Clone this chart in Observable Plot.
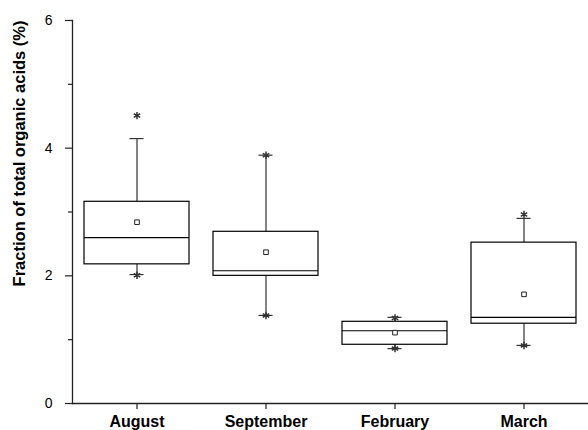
<!DOCTYPE html>
<html>
<head>
<meta charset="utf-8">
<script src="https://cdn.jsdelivr.net/npm/d3@7"></script>
<script src="https://cdn.jsdelivr.net/npm/@observablehq/plot@0.6"></script>
<style>
  html, body { margin: 0; padding: 0; background: #fff; }
  #chart { width: 588px; height: 430px; }
  svg { font-family: Arial, "Liberation Sans", sans-serif; }
</style>
</head>
<body>
<div id="chart"></div>
<script>
const months = ["August", "September", "February", "March"];
const q1 = [2.18, 2.00, 0.92, 1.25];
const median = [2.60, 2.08, 1.14, 1.35];
const q3 = [3.16, 2.69, 1.28, 2.52];
const mean = [2.84, 2.37, 1.11, 1.71];
const whiskerLow = [2.02, 1.38, 0.86, 0.91];
const whiskerHigh = [4.15, 3.89, 1.35, 2.90];
const minVal = [2.01, 1.38, 0.86, 0.91];
const maxVal = [4.51, 3.89, 1.34, 2.96];
const yMajorTicks = [0, 2, 4, 6];
const yMinorTicks = [1, 3, 5];
const yLabel = "Fraction of total organic acids (%)";

const data = months.map((m, i) => ({
  month: m, q1: q1[i], median: median[i], q3: q3[i], mean: mean[i],
  lo: whiskerLow[i], hi: whiskerHigh[i], min: minVal[i], max: maxVal[i]
}));

const ink = "#222";
const boxInset = 12;
const capInset = 57.5;

const chart = Plot.plot({
  width: 588,
  height: 430,
  marginLeft: 72,
  marginRight: 0,
  marginTop: 20,
  marginBottom: 27,
  style: { background: "#fff", fontFamily: "Arial, 'Liberation Sans', sans-serif" },
  x: { type: "band", domain: months, padding: 0, axis: null },
  y: { domain: [0, 6], axis: null },
  marks: [
    Plot.ruleY([0], { stroke: ink, strokeWidth: 1.3 }),
    Plot.frame({ anchor: "left", stroke: ink, strokeWidth: 1.3 }),
    Plot.axisY({ ticks: yMajorTicks, tickSize: 7, text: null, stroke: ink, strokeWidth: 1.2, label: null }),
    Plot.axisY({ ticks: yMinorTicks, tickSize: 4, text: null, stroke: ink, strokeWidth: 1.2, label: null }),
    Plot.text(yMajorTicks, { y: d => d, text: d => String(d), frameAnchor: "left", textAnchor: "end", dx: -20, fontSize: 14, fill: "#000" }),
    Plot.axisX({ tickSize: 6, tickPadding: 6, fontSize: 16, fontWeight: "bold", stroke: ink, strokeWidth: 1.2, label: null, fill: "#000" }),
    Plot.text([yLabel], { frameAnchor: "top-left", rotate: -90, textAnchor: "end", dx: -59, fontSize: 16.5, fontWeight: "bold", fill: "#000" }),
    Plot.ruleX(data, { x: "month", y1: "q3", y2: "hi", stroke: "#333", strokeWidth: 1.2 }),
    Plot.ruleX(data, { x: "month", y1: "q1", y2: "lo", stroke: "#333", strokeWidth: 1.2 }),
    Plot.barY(data, { x: "month", y1: "q1", y2: "q3", fill: "white", stroke: "#000", strokeWidth: 1.2, insetLeft: boxInset, insetRight: boxInset }),
    Plot.tickY(data, { x: "month", y: "median", stroke: "#000", strokeWidth: 1.2, insetLeft: boxInset, insetRight: boxInset }),
    Plot.tickY(data, { x: "month", y: "hi", stroke: "#333", strokeWidth: 1.2, insetLeft: capInset, insetRight: capInset }),
    Plot.tickY(data, { x: "month", y: "lo", stroke: "#333", strokeWidth: 1.2, insetLeft: capInset, insetRight: capInset }),
    Plot.dot(data, { x: "month", y: "mean", symbol: "square", r: 2.6, fill: "white", stroke: "#222", strokeWidth: 1 }),
    Plot.dot(data, { x: "month", y: "max", symbol: "asterisk", r: 3.5, stroke: "#333", strokeWidth: 1.5 }),
    Plot.dot(data, { x: "month", y: "min", symbol: "asterisk", r: 3.5, stroke: "#333", strokeWidth: 1.5 })
  ]
});
document.getElementById("chart").appendChild(chart);
</script>
</body>
</html>
